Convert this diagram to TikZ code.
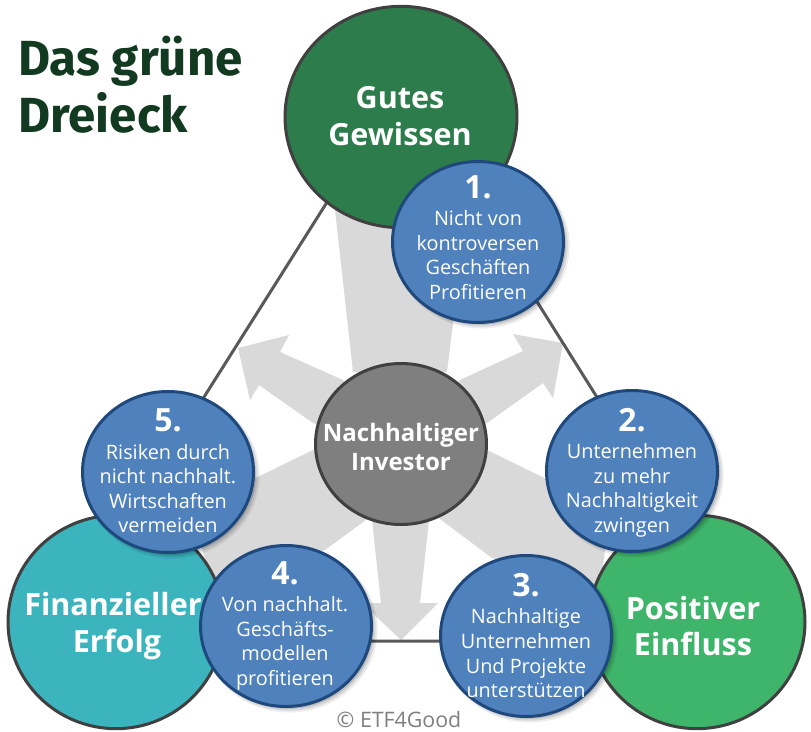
\documentclass[tikz,border=0pt]{standalone}
\usepackage{fontspec}
\setmainfont{Open Sans}
\newfontfamily\titlefont{Fira Sans}
\usetikzlibrary{shapes.geometric,shadows}
\definecolor{ballblue}{HTML}{4F81BD}
\definecolor{balledge}{HTML}{1F497D}
\definecolor{topgreen}{HTML}{2C7D4B}
\definecolor{tealc}{HTML}{3CB4BE}
\definecolor{rightgreen}{HTML}{3FB56B}
\definecolor{midgray}{HTML}{7F7F7F}
\definecolor{edgegray}{HTML}{404040}
\definecolor{linegray}{HTML}{595959}
\definecolor{arrowgray}{HTML}{D9D9D9}
\definecolor{titlegreen}{HTML}{123A21}
\tikzset{
  x=0.75pt,y=-0.75pt,
  arrowshape/.style={fill=arrowgray,draw=none},
  triline/.style={draw=linegray,line width=2.25pt},
  bigball/.style={ellipse,draw=edgegray,line width=2.25pt,inner sep=0pt,minimum width=174pt,minimum height=166pt},
  sideball/.style={bigball,minimum width=162pt,minimum height=160pt},
  midball/.style={bigball,fill=midgray,minimum width=128.25pt,minimum height=120.75pt},
  blueball/.style={ellipse,fill=ballblue,draw=balledge,line width=2.25pt,inner sep=0pt,minimum width=128.25pt,minimum height=120.75pt,
    general shadow={fill=black,opacity=.07,shadow xshift=2.6pt,shadow yshift=-2.6pt,shadow scale=1.03},
    general shadow={fill=black,opacity=.09,shadow xshift=2.2pt,shadow yshift=-2.2pt,shadow scale=1.015},
    general shadow={fill=black,opacity=.12,shadow xshift=1.8pt,shadow yshift=-1.8pt}},
  balltext/.style={text=white,align=center,inner sep=0pt,font=\fontsize{14.9pt}{18.4pt}\selectfont},
  bigtext/.style={text=white,align=center,inner sep=0pt,font=\fontsize{22.9pt}{27.4pt}\selectfont\bfseries},
  midtext/.style={text=white,align=center,inner sep=0pt,font=\fontsize{18pt}{22pt}\selectfont\bfseries},
  titletext/.style={text=titlegreen,align=left,anchor=west,inner sep=0pt,font=\titlefont\fontsize{37pt}{42.7pt}\selectfont\bfseries},
  creditext/.style={text=midgray,inner sep=0pt,font=\fontsize{16pt}{18pt}\selectfont},
}
\newcommand{\numline}[1]{{\fontsize{24pt}{21pt}\selectfont\bfseries #1}\\[2pt]}
\begin{document}
\begin{tikzpicture}
\useasboundingbox (0,0) rectangle (811,732);
\fill[white] (0,0) rectangle (811,732);
% grey arrows
\fill[arrowshape] (335,210) -- (353,372) -- (447,372) -- (467,210) -- cycle;
\fill[arrowshape] (460,380) -- (523,351) -- (513,334) -- (563,343) -- (553,398) -- (543,383) -- (487,423) -- (401,450) -- cycle;
\fill[arrowshape] (343,380) -- (280,352) -- (289,335) -- (238,348) -- (250,400) -- (259,385) -- (313,423) -- (401,450) -- cycle;
\fill[arrowshape] (372,520) -- (381,603) -- (362,603) -- (401,640) -- (438,603) -- (420,603) -- (429,520) -- cycle;
\fill[arrowshape] (487,450) -- (610,510) -- (600,590) -- (492,558) -- (440,519) -- (401,450) -- cycle;
\fill[arrowshape] (313,450) -- (190,510) -- (215,590) -- (325,550) -- (367,519) -- (401,450) -- cycle;
% triangle
\coordinate (apex) at (401,85);
\coordinate (leftc) at (50,641);
\coordinate (rightc) at (750,641);
\draw[triline] (apex) -- (leftc) -- (rightc) -- cycle;
% big circles
\node[bigball,fill=topgreen] (top) at (401,117) {};
\node[sideball,fill=tealc] (fin) at (116,622) {};
\node[sideball,fill=rightgreen] (pos) at (697,622) {};
\node[midball] (mid) at (401,444) {};
\node[bigtext] (toptext) at (400,116) {Gutes\\Gewissen};
\node[bigtext] (fintext) at (113,626) {Finanzieller\\\hspace{6pt}Erfolg};
\node[bigtext] (postext) at (693,626) {Positiver\\Einfluss};
\node[midtext] (midtext) at (401,447) {Nachhaltiger\\Investor};
% blue balls
\node[blueball] (b1) at (478,242) {};
\node[blueball] (b2) at (632,471) {};
\node[blueball] (b3) at (526,636) {};
\node[blueball] (b4) at (286,626) {};
\node[blueball] (b5) at (168,472) {};
\node[balltext] (t1) at (478,237.7) {\numline{1.}Nicht von\\kontroversen\\Geschäften\\Profitieren};
\node[balltext] (t2) at (632,472.7) {\numline{2.}Unternehmen\\zu mehr\\Nachhaltigkeit\\zwingen};
\node[balltext] (t3) at (526,635.7) {\numline{3.}Nachhaltige\\Unternehmen\\Und Projekte\\unterstützen};
\node[balltext] (t4) at (285,625.7) {\numline{4.}Von nachhalt.\\Geschäfts-\\modellen\\profitieren};
\node[balltext] (t5) at (168,471) {\numline{5.}Risiken durch\\nicht nachhalt.\\Wirtschaften\\vermeiden};
% title
\node[titletext] (title) at (18,85) {Das grüne\\Dreieck};
\node[creditext] (credit) at (399,719) {© ETF4Good};
\end{tikzpicture}
\end{document}
